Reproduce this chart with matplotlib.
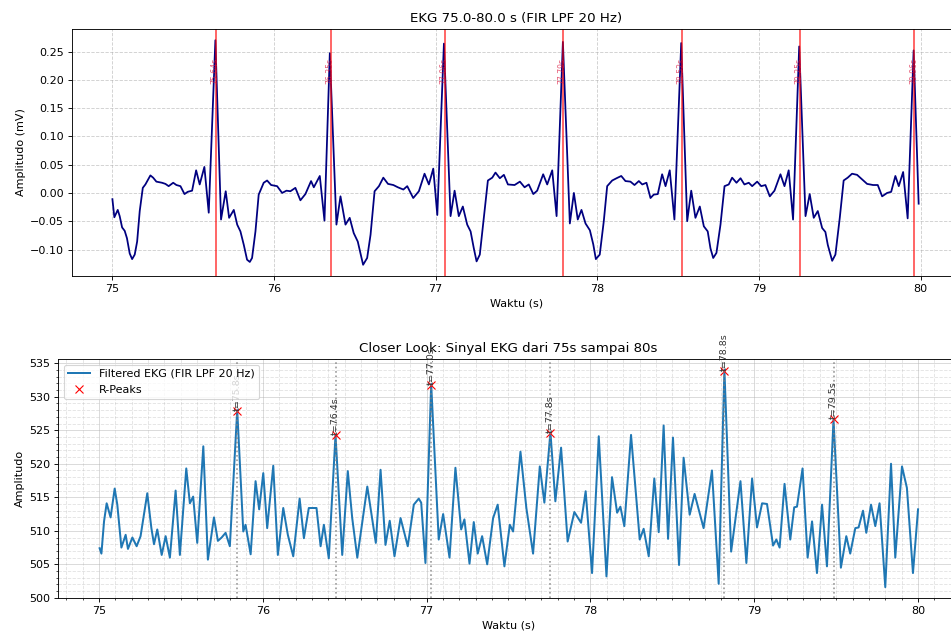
#
# plot.py - EKG 75-80 s: filtered signal with R-peaks and a closer look
#
import matplotlib
matplotlib.use('Agg')
import matplotlib.pyplot as plt
from matplotlib.ticker import MultipleLocator, AutoMinorLocator

# top panel: FIR LPF signal (s, mV)
t_top = [75.000, 75.012, 75.033, 75.045, 75.060, 75.076, 75.090, 75.107, 75.122, 75.138,
         75.153, 75.169, 75.188, 75.204, 75.221, 75.235, 75.252, 75.272, 75.307, 75.328,
         75.348, 75.376, 75.396, 75.421, 75.446, 75.466, 75.493, 75.518, 75.540, 75.569,
         75.596, 75.637, 75.672, 75.701, 75.722, 75.751, 75.772, 75.792, 75.813, 75.833,
         75.850, 75.864, 75.885, 75.905, 75.936, 75.957, 75.982, 76.019, 76.050, 76.077,
         76.101, 76.132, 76.163, 76.194, 76.229, 76.246, 76.283, 76.312, 76.345, 76.386,
         76.411, 76.442, 76.468, 76.493, 76.518, 76.551, 76.576, 76.597, 76.622, 76.649,
         76.676, 76.705, 76.738, 76.766, 76.800, 76.824, 76.861, 76.896, 76.931, 76.958,
         76.985, 77.010, 77.051, 77.092, 77.117, 77.143, 77.168, 77.195, 77.216, 77.236,
         77.253, 77.273, 77.298, 77.323, 77.350, 77.370, 77.397, 77.422, 77.447, 77.488,
         77.521, 77.550, 77.576, 77.604, 77.628, 77.665, 77.690, 77.721, 77.748, 77.787,
         77.830, 77.855, 77.879, 77.902, 77.927, 77.954, 77.975, 77.991, 78.015, 78.040,
         78.061, 78.092, 78.119, 78.148, 78.174, 78.205, 78.230, 78.257, 78.278, 78.304,
         78.329, 78.349, 78.374, 78.401, 78.422, 78.448, 78.477, 78.519, 78.556, 78.581,
         78.607, 78.634, 78.659, 78.683, 78.700, 78.717, 78.737, 78.762, 78.787, 78.813,
         78.834, 78.861, 78.886, 78.910, 78.937, 78.958, 78.989, 79.014, 79.040, 79.067,
         79.096, 79.133, 79.158, 79.184, 79.211, 79.249, 79.288, 79.314, 79.339, 79.364,
         79.391, 79.411, 79.426, 79.453, 79.473, 79.500, 79.524, 79.549, 79.576, 79.607,
         79.638, 79.669, 79.706, 79.735, 79.762, 79.793, 79.818, 79.844, 79.865, 79.892,
         79.920, 79.957, 79.988]
v_top = [-0.011, -0.043, -0.030, -0.041, -0.061, -0.067, -0.080, -0.107, -0.117, -0.109,
         -0.086, -0.032, 0.009, 0.015, 0.024, 0.031, 0.027, 0.020, 0.018, 0.016,
         0.012, 0.018, 0.014, 0.012, -0.002, 0.002, 0.004, 0.040, 0.015, 0.046,
         -0.035, 0.270, -0.047, 0.003, -0.044, -0.030, -0.056, -0.068, -0.092, -0.118,
         -0.122, -0.115, -0.068, -0.003, 0.018, 0.022, 0.014, 0.012, 0.000, 0.004,
         0.003, 0.009, -0.013, -0.002, 0.021, 0.010, 0.030, -0.049, 0.247, -0.056,
         -0.006, -0.056, -0.044, -0.071, -0.086, -0.127, -0.115, -0.074, 0.003, 0.012,
         0.027, 0.016, 0.014, 0.010, 0.006, 0.012, -0.009, 0.003, 0.034, 0.015,
         0.043, -0.039, 0.264, -0.041, 0.004, -0.041, -0.024, -0.056, -0.068, -0.098,
         -0.121, -0.109, -0.044, 0.022, 0.027, 0.036, 0.026, 0.032, 0.015, 0.014,
         0.020, 0.010, 0.015, -0.002, 0.004, 0.033, 0.015, 0.040, -0.041, 0.267,
         -0.054, 0.000, -0.047, -0.030, -0.054, -0.066, -0.091, -0.117, -0.109, -0.050,
         0.012, 0.022, 0.026, 0.030, 0.021, 0.020, 0.014, 0.021, 0.015, 0.018,
         -0.009, -0.003, -0.002, 0.033, 0.012, 0.040, -0.047, 0.265, -0.050, 0.004,
         -0.044, -0.024, -0.059, -0.068, -0.098, -0.115, -0.106, -0.056, 0.012, 0.015,
         0.027, 0.018, 0.026, 0.015, 0.018, 0.012, 0.020, 0.012, 0.014, -0.006,
         0.004, 0.033, 0.012, 0.040, -0.047, 0.259, -0.041, -0.002, -0.044, -0.032,
         -0.062, -0.069, -0.092, -0.120, -0.109, -0.044, 0.022, 0.027, 0.034, 0.032,
         0.024, 0.016, 0.014, 0.014, -0.006, 0.000, 0.002, 0.030, 0.012, 0.037,
         -0.045, 0.252, -0.019]

# R-peak positions marked in the top panel
r_top = [75.643, 76.350, 77.057, 77.789, 78.521, 79.255, 79.962]

# bottom panel: closer look signal (s, raw amplitude)
t_bot = [75.004, 75.015, 75.031, 75.047, 75.061, 75.071, 75.096, 75.112, 75.137, 75.163,
         75.177, 75.204, 75.230, 75.254, 75.295, 75.320, 75.336, 75.356, 75.383, 75.407,
         75.433, 75.468, 75.494, 75.533, 75.555, 75.575, 75.600, 75.637, 75.665, 75.702,
         75.726, 75.749, 75.773, 75.799, 75.844, 75.881, 75.895, 75.926, 75.956, 75.978,
         76.003, 76.027, 76.064, 76.092, 76.125, 76.153, 76.186, 76.225, 76.251, 76.281,
         76.328, 76.353, 76.373, 76.403, 76.444, 76.485, 76.519, 76.546, 76.577, 76.638,
         76.690, 76.719, 76.749, 76.775, 76.804, 76.841, 76.885, 76.922, 76.952, 76.967,
         76.993, 77.028, 77.074, 77.101, 77.140, 77.176, 77.211, 77.231, 77.262, 77.288,
         77.312, 77.339, 77.370, 77.406, 77.434, 77.475, 77.508, 77.528, 77.573, 77.609,
         77.650, 77.691, 77.719, 77.756, 77.786, 77.821, 77.861, 77.902, 77.943, 77.971,
         78.010, 78.051, 78.098, 78.132, 78.163, 78.183, 78.207, 78.248, 78.301, 78.325,
         78.356, 78.390, 78.417, 78.447, 78.474, 78.504, 78.541, 78.569, 78.606, 78.636,
         78.691, 78.742, 78.783, 78.818, 78.859, 78.916, 78.952, 78.987, 79.017, 79.048,
         79.078, 79.115, 79.135, 79.155, 79.185, 79.220, 79.244, 79.261, 79.295, 79.326,
         79.353, 79.383, 79.414, 79.444, 79.484, 79.529, 79.562, 79.586, 79.617, 79.637,
         79.664, 79.684, 79.713, 79.739, 79.765, 79.800, 79.835, 79.861, 79.902, 79.932,
         79.969, 80.000]
v_bot = [507.4, 506.6, 511.4, 514.1, 512.9, 512.0, 516.3, 513.9, 507.5, 509.4,
         507.3, 509.0, 507.7, 509.2, 515.6, 510.4, 508.0, 510.2, 506.4, 509.2,
         506.0, 516.0, 506.4, 519.3, 514.1, 515.1, 508.2, 522.6, 505.7, 512.0,
         508.5, 509.0, 509.7, 507.7, 528.0, 509.9, 510.9, 506.5, 517.4, 513.2,
         518.6, 510.4, 519.7, 506.4, 513.4, 509.4, 506.2, 514.8, 508.9, 513.4,
         513.4, 507.7, 510.9, 505.9, 524.3, 506.4, 518.9, 511.9, 506.0, 516.6,
         508.2, 519.1, 507.9, 511.5, 506.2, 511.9, 507.7, 513.9, 514.8, 514.2,
         505.2, 531.9, 508.7, 512.5, 506.0, 519.4, 510.2, 511.7, 505.1, 511.3,
         506.6, 509.2, 505.0, 511.9, 513.9, 504.7, 510.9, 509.9, 521.8, 513.4,
         506.6, 519.6, 514.2, 524.7, 514.4, 522.4, 508.4, 512.8, 511.2, 515.9,
         503.7, 524.1, 503.2, 518.0, 512.7, 513.6, 510.7, 524.3, 508.7, 510.3,
         506.2, 517.8, 509.8, 525.7, 508.8, 523.9, 504.9, 520.9, 512.4, 515.5,
         510.4, 519.0, 502.1, 534.0, 506.9, 517.4, 505.2, 517.8, 510.5, 514.1,
         514.0, 507.8, 508.7, 507.5, 517.0, 508.7, 513.5, 513.6, 519.3, 506.0,
         511.4, 503.7, 513.9, 504.7, 526.6, 504.5, 509.2, 506.6, 510.4, 510.5,
         513.0, 509.7, 513.9, 510.7, 514.1, 501.6, 520.0, 506.0, 519.6, 516.4,
         503.7, 513.2]

# detected R-peaks in the bottom panel
peak_t = [75.844, 76.444, 77.028, 77.756, 78.818, 79.484]
peak_v = [527.8, 524.3, 531.8, 524.6, 533.9, 526.6]


# function plot_top(ax)
def plot_top(ax):
    '''EKG 75-80 s with vertical R-peak lines'''
    ax.plot(t_top, v_top, color='navy', lw=1.6)
    for t in r_top:
        ax.axvline(t, color='red', alpha=0.7, lw=1.5)
        # small peak label drawn over the traces
        ax.text(t - 0.006, 0.215, f'{t:.2f}s', color='crimson', fontsize=7,
                rotation=90, ha='center', va='center', alpha=0.7, zorder=5)
    ax.set_title('EKG 75.0-80.0 s (FIR LPF 20 Hz)')
    ax.set_xlabel('Waktu (s)')
    ax.set_ylabel('Amplitudo (mV)')
    ax.set_xlim(74.75, 80.25)
    ax.grid(True, linestyle='--', alpha=0.6)


# function plot_bottom(ax)
def plot_bottom(ax):
    '''closer look with R-peak markers and labels'''
    ax.plot(t_bot, v_bot, label='Filtered EKG (FIR LPF 20 Hz)', lw=1.8)
    ax.plot(peak_t, peak_v, 'rx', label='R-Peaks', markersize=7)
    for t, v in zip(peak_t, peak_v):
        ax.axvline(t, color='gray', linestyle=':', alpha=0.8)
        ax.text(t, v, f't={t:.1f}s', rotation=90, ha='center', va='bottom',
                fontsize=8.5, color='#333333')
    ax.set_title('Closer Look: Sinyal EKG dari 75s sampai 80s')
    ax.set_xlabel('Waktu (s)')
    ax.set_ylabel('Amplitudo')
    ax.set_xlim(74.75, 80.25)
    ax.xaxis.set_minor_locator(MultipleLocator(0.1))
    ax.yaxis.set_minor_locator(AutoMinorLocator(5))
    ax.grid(which='major', linestyle='-', alpha=0.5)
    ax.grid(which='minor', linestyle='--', alpha=0.35)
    ax.legend(loc='upper left')


if __name__ == '__main__':
    fig = plt.figure(figsize=(951 / 80, 638 / 80), dpi=80)
    # axes run past the right edge, like the cropped reference
    ax1 = fig.add_axes([72 / 951, 362 / 638, 889 / 951, 247 / 638])
    ax2 = fig.add_axes([58 / 951, 40 / 638, 901 / 951, 239 / 638])
    plot_top(ax1)
    plot_bottom(ax2)
    fig.savefig('out.png', dpi=80)
